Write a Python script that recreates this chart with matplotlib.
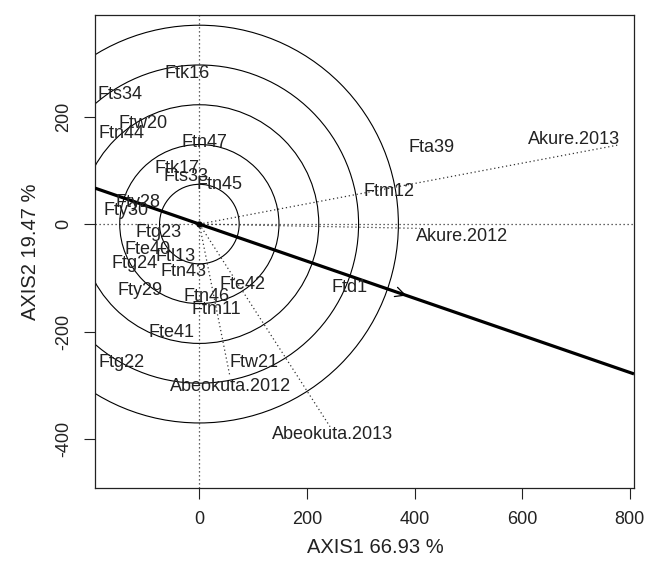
import matplotlib
matplotlib.use("Agg")
import matplotlib.pyplot as plt
from matplotlib.patches import Circle

plt.rcParams["font.family"] = ["Liberation Sans", "DejaVu Sans"]

# genotype scores on the first two principal axes
genotypes = ["Ftk16", "Fts34", "Ftw20", "Ftn44", "Ftn47", "Ftk17", "Fts33",
             "Ftn45", "Fty28", "Fty30", "Ftg23", "Fte40", "Ftl13", "Ftg24",
             "Ftn43", "Fty29", "Fte42", "Ftn46", "Ftm11", "Fte41", "Ftg22",
             "Ftw21", "Ftd1", "Fta39", "Ftm12"]
gen_x = [-22, -148, -105, -144, 10, -42, -25, 38, -114, -137, -75, -96, -45,
         -120, -29, -111, 81, 14, 32, -51, -144, 101, 280, 432, 352]
gen_y = [280, 241, 188, 169, 151, 104, 89, 73, 41, 26, -15, -48, -61, -74,
         -89, -123, -113, -135, -158, -201, -257, -257, -118, 143, 61]

# environment vectors and where their names sit
environments = ["Akure.2013", "Akure.2012", "Abeokuta.2012", "Abeokuta.2013"]
env_x = [778, 410, 57, 243]
env_y = [147, -8, -284, -377]
env_label_x = [696, 489, 58, 248]
env_label_y = [158, -24, -303, -391]

# average-environment axis: direction and arrow tip
atc_slope = -0.345
atc_tip = (385, -133)

circle_radii = [74, 148, 222, 296, 370]

xticks = [0, 200, 400, 600, 800]
yticks = [-400, -200, 0, 200]
xlabel = "AXIS1 66.93 %"
ylabel = "AXIS2 19.47 %"

fig = plt.figure(figsize=(6.46, 5.62), dpi=100)
ax = fig.add_axes([95 / 646, 74 / 562, 539 / 646, 473 / 562])
xlim = (-194, 808)
ylim = (-491, 389)
ax.set_xlim(*xlim)
ax.set_ylim(*ylim)

dotted = (0, (1, 2.2))
ax.axhline(0, color="#333333", lw=0.9, ls=dotted, zorder=1)
ax.axvline(0, color="#333333", lw=0.9, ls=dotted, zorder=1)

for r in circle_radii:
    ax.add_patch(Circle((0, 0), r, fill=False, lw=0.8, color="black", zorder=2))

for ex, ey in zip(env_x, env_y):
    ax.plot([0, ex], [0, ey], color="#333333", lw=0.9, ls=dotted, zorder=2)

# ATC line across the whole panel plus the arrow toward the mean
ax.plot(xlim, [atc_slope * xlim[0], atc_slope * xlim[1]],
        color="black", lw=2.3, zorder=3, solid_capstyle="butt")
ax.annotate("", xy=atc_tip, xytext=(0, 0),
            arrowprops=dict(arrowstyle="->,head_length=0.7,head_width=0.35",
                            color="black", lw=0.9, shrinkA=0, shrinkB=0),
            zorder=3)
ax.plot([0], [0], "o", color="black", ms=3.5, zorder=4)

for name, x, y in zip(genotypes, gen_x, gen_y):
    ax.text(x, y, name, ha="center", va="center", fontsize=13,
            color="#222222", zorder=5)
for name, x, y in zip(environments, env_label_x, env_label_y):
    ax.text(x, y, name, ha="center", va="center", fontsize=13,
            color="#222222", zorder=5)

ax.set_xticks(xticks)
ax.set_yticks(yticks)
ax.set_xticklabels([str(t) for t in xticks])
ax.set_yticklabels([str(t) for t in yticks], rotation=90, va="center")
ax.tick_params(length=8, width=0.8, labelsize=13, pad=8.5, colors="#222222")
for s in ax.spines.values():
    s.set_linewidth(0.9)
    s.set_color("#222222")

ax.set_xlabel(xlabel, fontsize=14.5, color="#222222", va="center")
ax.xaxis.set_label_coords(0.52, -0.125)
ax.set_ylabel(ylabel, fontsize=14.5, color="#222222", va="center")
ax.yaxis.set_label_coords(-0.12, 0.5)

fig.savefig("out.png", dpi=100)
